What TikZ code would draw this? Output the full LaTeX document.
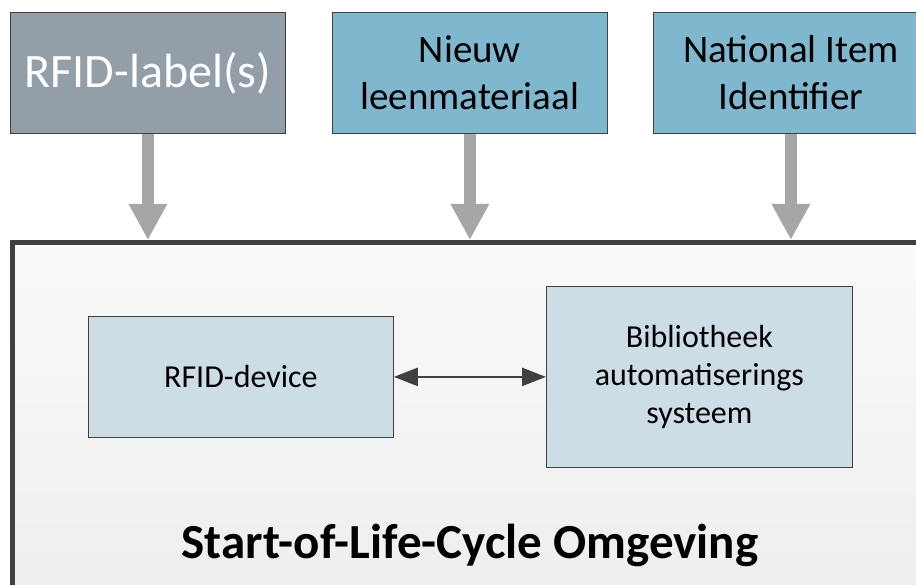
\documentclass[tikz,border=0pt]{standalone}
\usepackage{fontspec}
\setmainfont{Carlito}
\usetikzlibrary{arrows.meta}

\definecolor{labelgrey}{HTML}{939FA8}
\definecolor{inputblue}{HTML}{7FB7CE}
\definecolor{devblue}{HTML}{CCDDE5}
\definecolor{edgedark}{HTML}{404040}
\definecolor{arrowgrey}{HTML}{A6A6A6}

\begin{document}
\begin{tikzpicture}[x=1pt,y=-1pt,
  inbox/.style={draw=edgedark,line width=0.8pt,minimum width=275pt,minimum height=121pt,
    anchor=north west,align=center,inner sep=0pt},
  devbox/.style={draw=edgedark,line width=0.8pt,fill=devblue,align=center,
    anchor=north west,inner sep=0pt,font=\fontsize{32}{38}\selectfont},
  feed/.style={arrowgrey,line width=12pt,-{Triangle[length=36pt,width=36pt]}}]
\useasboundingbox (0,0) rectangle (916,585);
\clip (0,0) rectangle (916,585);

% omgeving (loopt door buiten beeld)
\node[draw=edgedark,line width=5pt,top color=black!2,bottom color=black!7,
  minimum width=930pt,minimum height=380pt,anchor=north west] (env) at (10,240) {};

% de drie invoerblokken
\node[inbox,fill=labelgrey,text=white,font=\fontsize{48}{56}\selectfont] (label) at (10,12) {RFID-label(s)};
\node[inbox,fill=inputblue,font=\fontsize{39}{47}\selectfont] (nieuw) at (332,12) {Nieuw\\leenmateriaal};
\node[inbox,fill=inputblue,font=\fontsize{39}{47}\selectfont] (nii) at (653,12) {National Item\\Identifier};

\foreach \b in {label,nieuw,nii}
{\draw[feed] (\b.south)--(\b.south |- env.north);}

% binnen de omgeving
\node[devbox,minimum width=305pt,minimum height=121pt] (dev) at (88,316) {RFID-device};
\node[devbox,minimum width=306pt,minimum height=181pt] (bas) at (546,286) {Bibliotheek\\automatiserings\\systeem};
\draw[edgedark,line width=2.5pt,{Triangle[length=24pt,width=18pt]}-{Triangle[length=24pt,width=18pt]}] (dev.east)--(dev.east -| bas.west);

\node[font=\fontsize{49}{56}\selectfont\bfseries] (titel) at (470,545) {Start-of-Life-Cycle Omgeving};
\end{tikzpicture}
\end{document}
